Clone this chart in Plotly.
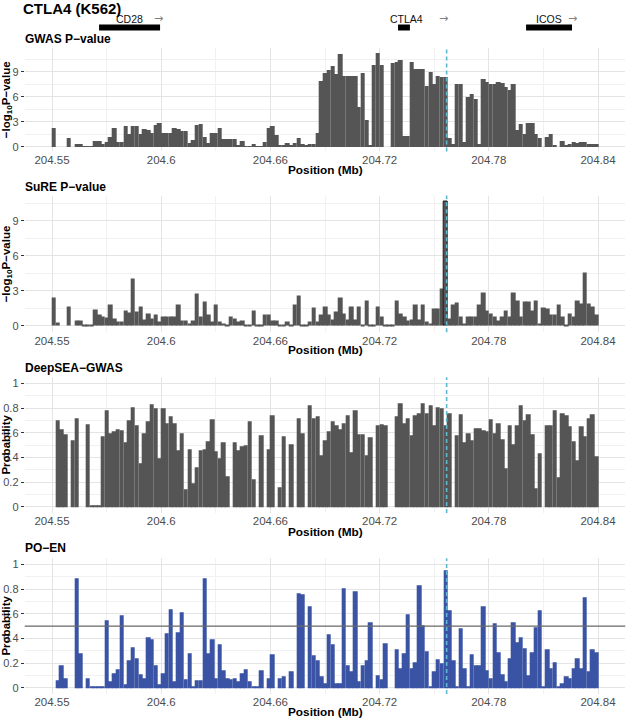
import plotly.graph_objects as go

W, H = 627, 719

# ---------------- data ----------------
BIN_START_MB = 204.550   # first 2-kb bin start
BIN_MB = 0.002           # bin width (Mb)

gwas = [2.3, 0, 0, 0, 1.1, 0, 0.3, 0.3, 0.05, 0.05,
        0.05, 0.7, 0.7, 0.35, 0.6, 1.2, 2.3, 0.6, 0.6, 2.5,
        1.5, 2.5, 2.5, 1.5, 2.1, 2.0, 1.6, 2.6, 2.8, 1.6,
        1.6, 1.6, 2.2, 2.1, 1.9, 1.9, 0.5, 0.8, 2.6, 2.7,
        1.2, 0.5, 1.7, 1.7, 2.3, 0.9, 0.9, 0.9, 0.9, 0.1,
        0.7, 0.05, 0.05, 0.3, 0.05, 0.05, 0.6, 2.2, 2.5, 1.4,
        0.1, 0.1, 0.5, 0.1, 0.5, 1.1, 0.3, 0.1, 0.3, 0.3,
        1.6, 7.9, 8.9, 9.2, 9.7, 8.7, 11.1, 8.5, 8.5, 8.5,
        8.5, 4.8, 8.9, 3.2, 0.1, 9.8, 11.3, 9.8, 0, 0,
        10.1, 10.2, 10.4, 1.3, 1.3, 10.2, 9.3, 9.3, 9.3, 7.3,
        9.0, 7.5, 8.5, 8.4, 8.4, 1.0, 0.3, 7.5, 7.5, 0.6,
        6.0, 6.3, 5.8, 0.3, 8.2, 7.8, 7.6, 7.6, 7.8, 7.7,
        7.2, 6.8, 7.5, 2.0, 2.7, 1.5, 2.9, 2.9, 1.5, 1.0,
        0, 1.2, 1.5, 0.2, 0, 0.7, 0.2, 0.3, 0.6, 0.5,
        0.6, 0.6, 0.3, 0.3, 0.3]

sure = [2.4, 0.3, 0, 0, 1.65, 0, 0.5, 0.5, 0.05, 0.05,
        0.05, 1.4, 0.95, 0.8, 0.75, 1.8, 0.65, 0.4, 0.4, 1.3,
        1.15, 4.1, 1.2, 1.7, 0.55, 1.1, 0.65, 0.95, 0.4, 0.8,
        0.8, 0.8, 0.8, 1.8, 0.45, 0.45, 0.25, 0.5, 2.75, 0.8,
        2.1, 0.95, 0.4, 1.8, 0.4, 0.25, 0.15, 0.85, 0.65, 0.4,
        0.5, 0.1, 0.05, 1.3, 0.05, 0.05, 1.0, 1.0, 0.5, 0.45,
        0.05, 0.05, 0.35, 0.05, 1.8, 2.65, 0.05, 0.15, 0.35, 1.55,
        0.35, 1.0, 1.65, 0.95, 0.55, 1.2, 2.4, 1.1, 0.55, 1.7,
        0.55, 1.7, 0.1, 2.15, 0.05, 0.05, 1.65, 0.8, 0.05, 0.05,
        0.05, 2.2, 1.1, 0.8, 0.5, 0.55, 1.8, 0.55, 1.8, 0.35,
        0.25, 1.5, 1.5, 3.2, 10.65, 0.65, 1.8, 2.0, 0.8, 0.25,
        0.8, 0.85, 0.85, 1.8, 2.85, 1.35, 1.1, 0.8, 0.5, 0.8,
        1.35, 0.8, 2.85, 2.15, 0.8, 2.1, 2.1, 1.3, 2.2, 0.25,
        1.55, 1.5, 0.95, 0.95, 1.8, 0.8, 0.05, 1.1, 0.8, 2.15,
        1.9, 4.6, 1.95, 1.7, 0.95]

deepsea = [0, 0.70, 0.63, 0.59, 0, 0.54, 0.72, 0, 0, 0.67,
           0.005, 0.005, 0.005, 0.57, 0.78, 0.60, 0.61, 0.63, 0.62, 0.52,
           0.70, 0.81, 0.66, 0.35, 0.60, 0.69, 0.83, 0.80, 0.39, 0.80,
           0.68, 0.73, 0.68, 0.46, 0.60, 0.14, 0.47, 0.19, 0.32, 0.46,
           0.47, 0.53, 0.71, 0.45, 0.39, 0.52, 0.25, 0, 0.52, 0.46,
           0.49, 0.50, 0.69, 0.22, 0, 0.58, 0, 0.47, 0.74, 0,
           0.16, 0.57, 0, 0.51, 0, 0.72, 0.60, 0, 0.82, 0.72,
           0.73, 0.42, 0.54, 0.61, 0.69, 0.66, 0.63, 0.68, 0.74, 0.44,
           0.78, 0.59, 0.59, 0.42, 0.56, 0, 0.66, 0.67, 0.66, 0,
           0, 0.73, 0.84, 0.68, 0.72, 0.58, 0.74, 0.76, 0.84, 0.76,
           0.82, 0.66, 0.81, 0.80, 0.66, 0.76, 0, 0.58, 0.75, 0.52,
           0.60, 0.54, 0.64, 0.64, 0.62, 0.61, 0.71, 0.60, 0.68, 0.55,
           0.31, 0.66, 0.51, 0.66, 0.82, 0.70, 0.75, 0.59, 0.15, 0.43,
           0, 0.66, 0.66, 0.78, 0.24, 0.76, 0.74, 0.65, 0.53, 0.38,
           0.65, 0.57, 0.72, 0.75, 0.41]

poen = [0, 0.06, 0.18, 0.08, 0, 0, 0.89, 0.28, 0, 0.08,
        0.005, 0.005, 0.005, 0.005, 0.55, 0.05, 0.12, 0.15, 0.59, 0.03,
        0.22, 0.33, 0.24, 0.11, 0.08, 0.41, 0.39, 0.18, 0.03, 0.12,
        0.44, 0.64, 0.05, 0.45, 0.61, 0.07, 0.28, 0.005, 0.06, 0.06,
        0.89, 0.28, 0.39, 0.08, 0.35, 0.14, 0.08, 0.07, 0.08, 0.05,
        0.12, 0.15, 0.05, 0.005, 0.005, 0.14, 0, 0.08, 0.27, 0,
        0.08, 0.09, 0, 0.13, 0, 0.77, 0.76, 0, 0.66, 0.26,
        0.22, 0.09, 0.04, 0.43, 0.35, 0.04, 0.04, 0.81, 0.18, 0.13,
        0.78, 0.05, 0.18, 0.22, 0.53, 0, 0.10, 0.07, 0.36, 0,
        0, 0.31, 0.16, 0.28, 0.60, 0.16, 0.21, 0.83, 0.51, 0.30,
        0.01, 0.13, 0.23, 0.20, 0.95, 0.63, 0.22, 0.005, 0.48, 0.16,
        0.01, 0.27, 0.18, 0.18, 0.66, 0.14, 0.08, 0.52, 0.29, 0.11,
        0.05, 0.24, 0.53, 0.37, 0.41, 0.32, 0.10, 0.29, 0.49, 0.63,
        0.005, 0.31, 0.16, 0.21, 0.005, 0.04, 0.09, 0.08, 0.16, 0.24,
        0.16, 0.73, 0.13, 0.31, 0.29]

x_tick_vals = [204.55, 204.608, 204.666, 204.724, 204.782, 204.84]
x_tick_text = ["204.55", "204.6", "204.66", "204.72", "204.78", "204.84"]
x_minor_vals = [204.579, 204.637, 204.695, 204.753, 204.811]

genes = ["CD28", "CTLA4", "ICOS"]
gene_start = [204.5750, 204.7338, 204.8018]
gene_end = [204.6074, 204.7401, 204.8262]
gene_label_x = [204.5912, 204.7383, 204.8140]
gene_arrow_x = [204.6066, 204.7577, 204.8262]

lead_snp_mb = 204.7596
poen_threshold = 0.5

# ---------------- styling ----------------
FONT = "Liberation Sans, Arial, Helvetica, sans-serif"
GREY_BAR = "#555555"
BLUE_BAR = "#3A53A4"
DASH_COL = "#5DB7D0"
GRID_MAJ = "#E4E4E4"
GRID_MIN = "#F1F1F1"
TICK_COL = "#4D4D4D"

def py(p):
    return 1 - p / H

X_LEFT, X_RIGHT = 24.7, 625.3
XRANGE = [204.5355, 204.8545]
xdom = [X_LEFT / W, X_RIGHT / W]

centers = [BIN_START_MB + BIN_MB * (i + 0.5) for i in range(len(gwas))]
BAR_DRAW_W = BIN_MB * 1.18   # slight overlap so adjacent bars merge

panels = [
    dict(vals=gwas, color=GREY_BAR, top=47.9, bot=151.4, yr=[-0.565, 11.865],
         ticks=[0, 3, 6, 9], ticktext=["0", "3", "6", "9"], minor=[1.5, 4.5, 7.5, 10.5],
         title="GWAS P\u2212value", title_y=39,
         ytitle="<b>\u2212log<sub>10</sub>P\u2212value</b>", xtitle_y=170),
    dict(vals=sure, color=GREY_BAR, top=195.5, bot=332.2, yr=[-0.5325, 11.18],
         ticks=[0, 3, 6, 9], ticktext=["0", "3", "6", "9"], minor=[1.5, 4.5, 7.5, 10.5],
         title="SuRE P\u2212value", title_y=187,
         ytitle="<b>\u2212log<sub>10</sub>P\u2212value</b>", xtitle_y=350),
    dict(vals=deepsea, color=GREY_BAR, top=377.2, bot=512.9, yr=[-0.05, 1.05],
         ticks=[0, 0.2, 0.4, 0.6, 0.8, 1], ticktext=["0", "0.2", "0.4", "0.6", "0.8", "1"],
         minor=[0.1, 0.3, 0.5, 0.7, 0.9],
         title="DeepSEA\u2212GWAS", title_y=367.5, ytitle="<b>Probability</b>", xtitle_y=532),
    dict(vals=poen, color=BLUE_BAR, top=558.2, bot=693.9, yr=[-0.05, 1.05],
         ticks=[0, 0.2, 0.4, 0.6, 0.8, 1], ticktext=["0", "0.2", "0.4", "0.6", "0.8", "1"],
         minor=[0.1, 0.3, 0.5, 0.7, 0.9],
         title="PO\u2212EN", title_y=548, ytitle="<b>Probability</b>", xtitle_y=711.5),
]

fig = go.Figure()
layout = dict(width=W, height=H, margin=dict(l=0, r=0, t=0, b=0),
              paper_bgcolor="white", plot_bgcolor="white", showlegend=False,
              bargap=0, hovermode=False, font=dict(family=FONT, color="black"))
annotations = []
shapes = []

for k, p in enumerate(panels, start=1):
    xa = "x" if k == 1 else f"x{k}"
    ya = "y" if k == 1 else f"y{k}"
    vals = p["vals"]
    line_w = [0] * len(vals)
    if k == 2:
        m = max(vals)
        line_w = [1.0 if v == m else 0 for v in vals]
    fig.add_trace(go.Bar(x=centers, y=vals, width=BAR_DRAW_W, xaxis=xa, yaxis=ya,
                         marker=dict(color=p["color"], line=dict(width=line_w, color="#1E1E1E"))))
    xkey = "xaxis" if k == 1 else f"xaxis{k}"
    ykey = "yaxis" if k == 1 else f"yaxis{k}"
    layout[xkey] = dict(domain=xdom, anchor=ya, range=XRANGE, tickmode="array",
                        tickvals=x_tick_vals, ticktext=x_tick_text, showgrid=True,
                        gridcolor=GRID_MAJ, gridwidth=1, zeroline=False, showline=False,
                        ticks="", tickfont=dict(size=11.5, color=TICK_COL, family=FONT),
                        minor=dict(tickvals=x_minor_vals, showgrid=True, gridcolor=GRID_MIN,
                                   gridwidth=0.6, ticks=""),
                        fixedrange=True)
    layout[ykey] = dict(domain=[py(p["bot"]), py(p["top"])], anchor=xa, range=p["yr"],
                        tickmode="array", tickvals=p["ticks"], ticktext=p["ticktext"],
                        showgrid=True, gridcolor=GRID_MAJ, gridwidth=1, zeroline=False,
                        showline=False, ticks="outside", ticklen=3, tickwidth=1,
                        tickcolor="#333333", tickfont=dict(size=11, color=TICK_COL, family=FONT),
                        minor=dict(tickvals=p["minor"], showgrid=True, gridcolor=GRID_MIN,
                                   gridwidth=0.6, ticks=""),
                        fixedrange=True)
    shapes.append(dict(type="line", xref=xa, yref=f"{ya} domain", x0=lead_snp_mb, x1=lead_snp_mb,
                       y0=0, y1=1, line=dict(color=DASH_COL, width=1.6, dash="4px,3px"),
                       layer="above"))
    annotations.append(dict(text=f"<b>{p['title']}</b>", xref="paper", yref="paper",
                            x=23 / W, y=py(p["title_y"]), xanchor="left", yanchor="middle",
                            showarrow=False, font=dict(size=12, color="black", family=FONT)))
    annotations.append(dict(text=p["ytitle"], xref="paper", yref="paper", x=6.5 / W,
                            y=py((p["top"] + p["bot"]) / 2), xanchor="center", yanchor="middle",
                            textangle=-90, showarrow=False,
                            font=dict(size=11.5, color="black", family=FONT)))
    annotations.append(dict(text="<b>Position (Mb)</b>", xref="paper", yref="paper",
                            x=(X_LEFT + X_RIGHT) / 2 / W, y=py(p["xtitle_y"]), xanchor="center",
                            yanchor="middle", showarrow=False,
                            font=dict(size=11.8, color="black", family=FONT)))

shapes.append(dict(type="line", xref="x4 domain", yref="y4", x0=0, x1=1,
                   y0=poen_threshold, y1=poen_threshold,
                   line=dict(color="#6A6A6A", width=1.2), layer="above"))

for g, s, e, lx, ax in zip(genes, gene_start, gene_end, gene_label_x, gene_arrow_x):
    shapes.append(dict(type="rect", xref="x", yref="paper", x0=s, x1=e,
                       y0=py(30.5), y1=py(24.5), fillcolor="black", line=dict(width=0)))
    annotations.append(dict(text=g, xref="x", yref="paper", x=lx, y=py(19), xanchor="center",
                            yanchor="middle", showarrow=False,
                            font=dict(size=10.5, color="#111111", family=FONT)))
    annotations.append(dict(text="\u2192", xref="x", yref="paper", x=ax, y=py(18.5),
                            xanchor="center", yanchor="middle", showarrow=False,
                            font=dict(size=11, color="#808080", family="DejaVu Sans")))

annotations.append(dict(text="<b>CTLA4 (K562)</b>", xref="paper", yref="paper", x=21 / W,
                        y=py(8), xanchor="left", yanchor="middle", showarrow=False,
                        font=dict(size=15, color="black", family=FONT)))

layout["annotations"] = annotations
layout["shapes"] = shapes
fig.update_layout(**layout)
fig.write_html("out.html", config={"displayModeBar": False},
               post_script="document.body.style.margin='0';document.body.style.overflow='hidden';")
